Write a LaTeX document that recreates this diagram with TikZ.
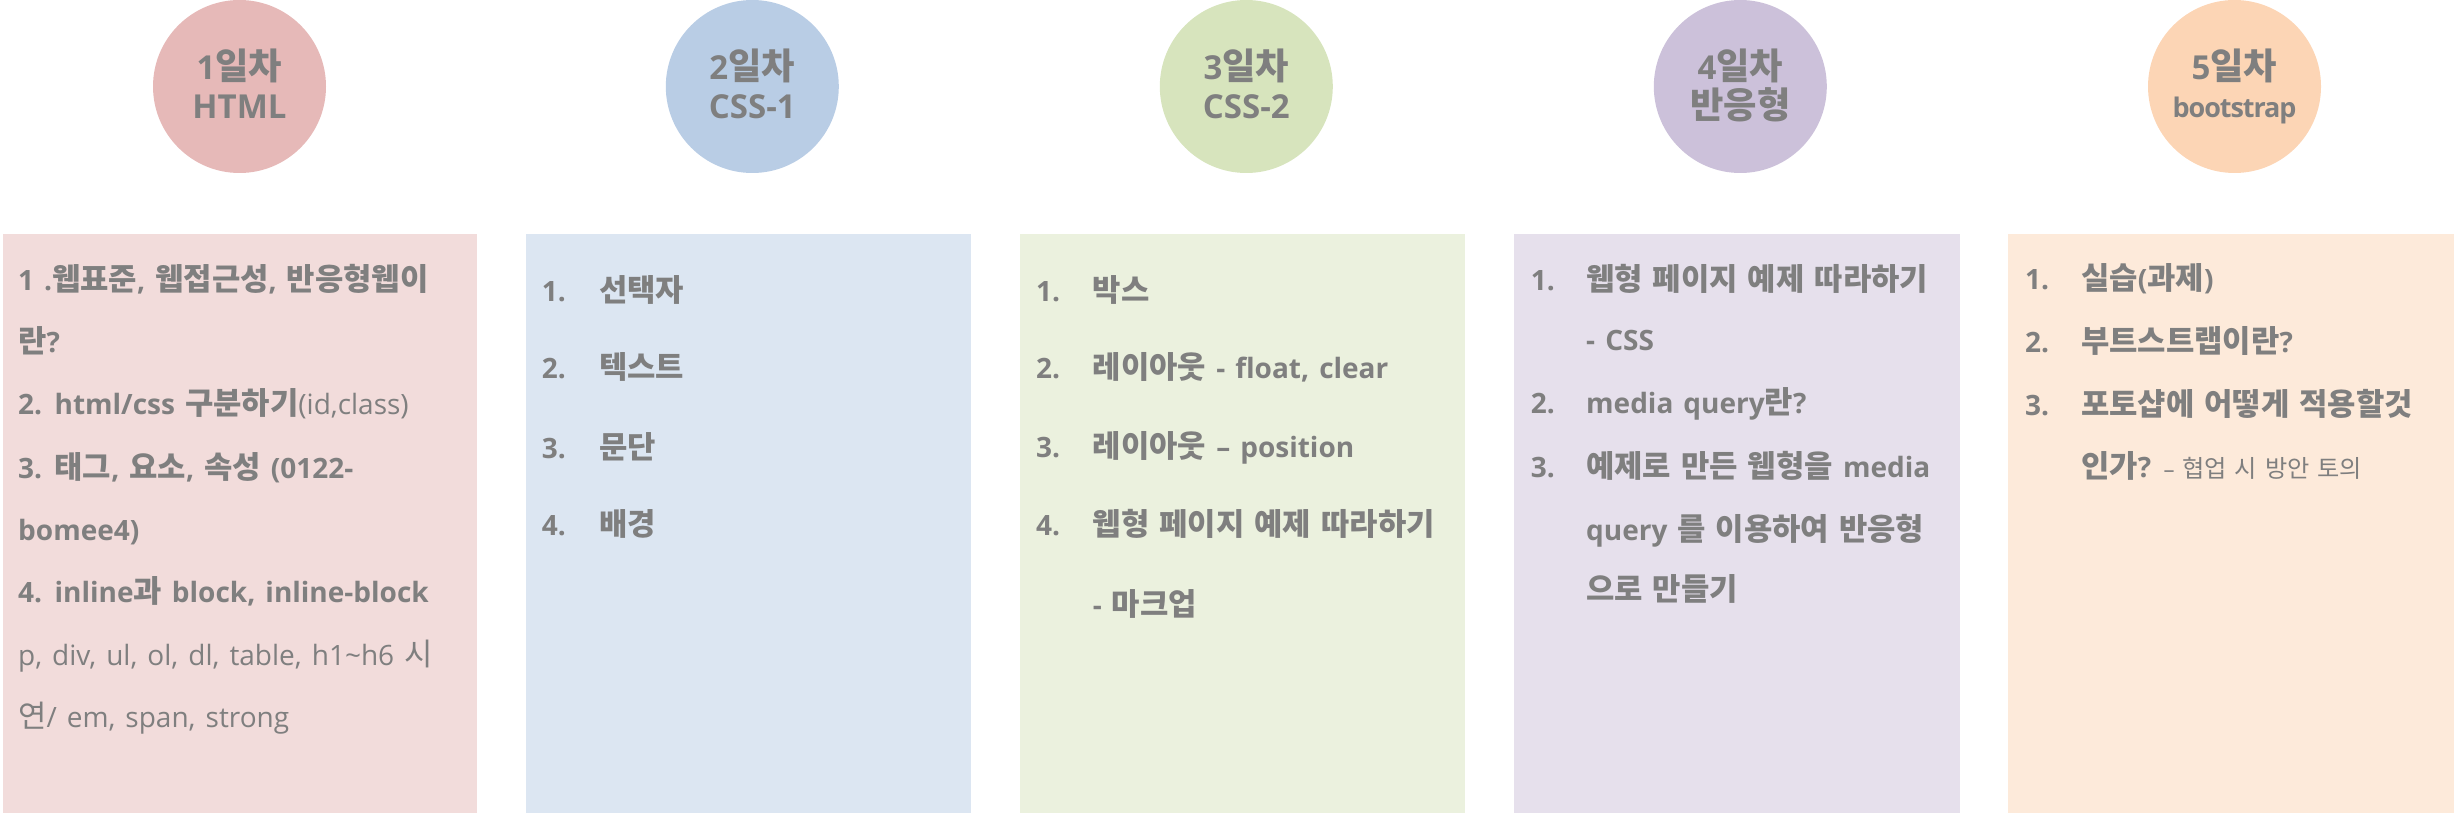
\documentclass[tikz,border=0pt]{standalone}
\usepackage{fontspec}
\setmainfont{Open Sans}[WordSpace=1.38]
\newfontfamily\latfont{Open Sans}[WordSpace=1.38]
\newfontfamily\krfont[Scale=1.1]{Noto Sans CJK KR}
\XeTeXinterchartokenstate=1
\newXeTeXintercharclass\krclass
\newcount\hcnt
\hcnt="AC00
\loop \XeTeXcharclass\hcnt=\krclass \advance\hcnt by 1 \ifnum\hcnt<"D7A4 \repeat
\XeTeXinterchartoks 0 \krclass = {\krfont}
\XeTeXinterchartoks 4095 \krclass = {\krfont}
\XeTeXinterchartoks \krclass 0 = {\latfont}
\XeTeXinterchartoks \krclass 4095 = {\latfont}
\definecolor{txt}{HTML}{7F7F7F}
\definecolor{cA}{HTML}{E6B9B8}\definecolor{bA}{HTML}{F2DCDB}
\definecolor{cB}{HTML}{B9CDE5}\definecolor{bB}{HTML}{DCE6F2}
\definecolor{cC}{HTML}{D7E4BD}\definecolor{bC}{HTML}{EBF1DE}
\definecolor{cD}{HTML}{CCC1DA}\definecolor{bD}{HTML}{E6E0EC}
\definecolor{cE}{HTML}{FCD5B5}\definecolor{bE}{HTML}{FDEADA}
\tikzset{
  daycirc/.style={circle, minimum size=173pt, inner sep=0pt, draw=none},
  ct/.style={anchor=base, inner sep=0pt, text=txt, font=\fontsize{33}{40}\selectfont\bfseries},
  bt/.style={anchor=base west, inner sep=0pt, text=txt, font=\fontsize{28}{34}\selectfont\bfseries},
  rt/.style={anchor=base west, inner sep=0pt, text=txt, font=\fontsize{28}{34}\selectfont},
}
\begin{document}
\begin{tikzpicture}[x=1pt,y=-1pt]
\useasboundingbox (0,0) rectangle (2454,813);
% boxes
\fill[bA] (3,234) rectangle (477,813);
\fill[bB] (526,234) rectangle (971,813);
\fill[bC] (1020,234) rectangle (1465,813);
\fill[bD] (1514,234) rectangle (1960,813);
\fill[bE] (2008,234) rectangle (2454,813);
% circles
\node[daycirc, fill=cA] (c1) at (239.5,86.5) {};
\node[daycirc, fill=cB] (c2) at (752.3,86.5) {};
\node[daycirc, fill=cC] (c3) at (1246.3,86.5) {};
\node[daycirc, fill=cD] (c4) at (1740.3,86.5) {};
\node[daycirc, fill=cE] (c5) at (2234.5,86.5) {};
\node[ct] (t1a) at (239.5,80) {1일차};
\node[ct] (t1b) at (239.5,119) {HTML};
\node[ct] (t2a) at (752.3,80) {2일차};
\node[ct] (t2b) at (752.3,118.5) {CSS-1};
\node[ct] (t3a) at (1246.3,80) {3일차};
\node[ct] (t3b) at (1246.3,118.5) {CSS-2};
\node[ct] (t4a) at (1740.3,80) {4일차};
\node[ct] (t4b) at (1740.3,118.5) {반응형};
\node[ct] (t5a) at (2234.5,80) {5일차};
\node[ct, font=\fontsize{27}{32}\selectfont\bfseries\addfontfeature{LetterSpace=-4}] (t5b) at (2234.5,118) {bootstrap};
% box 1
\node[bt] (a1) at (18,290) {1 .웹표준, 웹접근성, 반응형웹이};
\node[bt] (a2) at (18,352) {란?};
\node[bt] (a3) at (18,414) {2. html/css 구분하기\mdseries(id,class)};
\node[bt] (a4) at (18,478) {3. 태그, 요소, 속성 (0122-};
\node[bt] (a5) at (18,540) {bomee4)};
\node[bt] (a6) at (18,602) {4. inline과 block, inline-block};
\node[rt] (a7) at (18,665) {p, div, ul, ol, dl, table, h1\textasciitilde h6 시};
\node[rt] (a8) at (18,727) {연/ em, span, strong};
% box 2
\node[bt] (b1n) at (541.7,301) {1.};
\node[bt] (b1) at (599,301) {선택자};
\node[bt] (b2n) at (541.7,378) {2.};
\node[bt] (b2) at (599,378) {텍스트};
\node[bt] (b3n) at (541.7,458) {3.};
\node[bt] (b3) at (599,458) {문단};
\node[bt] (b4n) at (541.7,535) {4.};
\node[bt] (b4) at (599,535) {배경};
% box 3
\node[bt] (d1n) at (1036,301) {1.};
\node[bt] (d1) at (1092.7,301) {박스};
\node[bt] (d2n) at (1036,378) {2.};
\node[bt] (d2) at (1092.7,378) {레이아웃 - float, clear};
\node[bt] (d3n) at (1036,457) {3.};
\node[bt] (d3) at (1092.7,457) {레이아웃 – position};
\node[bt] (d4n) at (1036,535) {4.};
\node[bt] (d4) at (1092.7,535) {웹형 페이지 예제 따라하기};
\node[bt] (d5) at (1092.7,615) {- 마크업};
% box 4
\node[bt] (e1n) at (1530.7,290) {1.};
\node[bt] (e1) at (1586,290) {웹형 페이지 예제 따라하기};
\node[bt] (e1b) at (1586,350) {- CSS};
\node[bt] (e2n) at (1530.7,413) {2.};
\node[bt] (e2) at (1586,413) {media query란?};
\node[bt] (e3n) at (1530.7,477) {3.};
\node[bt] (e3) at (1586,477) {예제로 만든 웹형을 media};
\node[bt] (e3b) at (1586,540) {query 를 이용하여 반응형};
\node[bt] (e3c) at (1586,600) {으로 만들기};
% box 5
\node[bt] (f1n) at (2025,289) {1.};
\node[bt] (f1) at (2081,289) {실습(과제)};
\node[bt] (f2n) at (2025,352) {2.};
\node[bt] (f2) at (2081,352) {부트스트랩이란?};
\node[bt] (f3n) at (2025,415) {3.};
\node[bt] (f3) at (2081,415) {포토샵에 어떻게 적용할것};
\node[bt] (f4) at (2081,477) {인가? {\mdseries\fontsize{22}{26}\selectfont – 협업 시 방안 토의}};
\end{tikzpicture}
\end{document}
